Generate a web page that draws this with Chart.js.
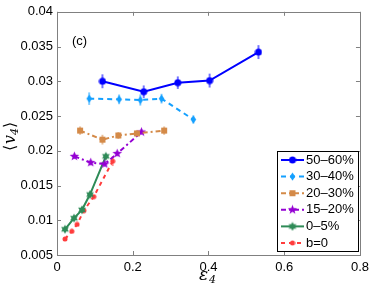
<!DOCTYPE html>
<html>
<head>
<meta charset="utf-8">
<script src="https://cdn.jsdelivr.net/npm/chart.js@4.4.1/dist/chart.umd.min.js"></script>
<style>
  body { margin: 0; background: #fff; }
  #wrap { width: 374px; height: 286px; }
</style>
</head>
<body>
<div id="wrap"><canvas id="chart" width="374" height="286"></canvas></div>
<script>
// series: x = eps4, y = <v4>, err = half length of the error bar
const seriesNames = ["50\u201360%", "30\u201340%", "20\u201330%", "15\u201320%", "0\u20135%", "b=0"];

const x50 = [0.120, 0.229, 0.319, 0.403, 0.532];
const y50 = [0.0300, 0.0285, 0.0298, 0.0301, 0.0342];
const e50 = [0.0010, 0.0009, 0.0009, 0.0010, 0.0010];

const x30 = [0.085, 0.164, 0.220, 0.276, 0.360];
const y30 = [0.0275, 0.0274, 0.0273, 0.0275, 0.0245];
const e30 = [0.0009, 0.0007, 0.0008, 0.0007, 0.0006];

const x20 = [0.061, 0.120, 0.162, 0.211, 0.283];
const y20 = [0.0229, 0.0216, 0.0222, 0.0225, 0.0229];
const e20 = [0.0006, 0.0007, 0.0005, 0.0005, 0.0006];

const x15 = [0.046, 0.089, 0.126, 0.159, 0.223];
const y15 = [0.0192, 0.0183, 0.0181, 0.0196, 0.0227];
const e15 = [0.0004, 0.0004, 0.0004, 0.0004, 0.0004];

const x05 = [0.021, 0.045, 0.066, 0.087, 0.129];
const y05 = [0.0087, 0.0103, 0.0115, 0.0137, 0.0192];
const e05 = [0.0003, 0.0003, 0.0003, 0.0003, 0.0003];

const xb0 = [0.021, 0.039, 0.053, 0.071, 0.097, 0.147];
const yb0 = [0.0073, 0.0084, 0.0094, 0.0114, 0.0134, 0.0185];
const eb0 = [0.0002, 0.0002, 0.0002, 0.0002, 0.0002, 0.0007];

const xTicks = [0, 0.2, 0.4, 0.6, 0.8];
const yTicks = [0.005, 0.01, 0.015, 0.02, 0.025, 0.03, 0.035, 0.04];

function makeMarker(shape, size, color) {
    const c = document.createElement('canvas');
    c.width = size; c.height = size;
    const g = c.getContext('2d');
    const m = size / 2, r = size / 2 - 0.5;
    g.fillStyle = color;
    g.beginPath();
    if (shape == 'circle') {
        g.arc(m, m, r, 0, Math.PI * 2);
    } else if (shape == 'diamond') {
        g.moveTo(m, m - r); g.lineTo(m + r * 0.7, m); g.lineTo(m, m + r); g.lineTo(m - r * 0.7, m);
    } else if (shape == 'square') {
        g.rect(m - r * 0.85, m - r * 0.85, r * 1.7, r * 1.7);
    } else {
        // star: pentagram or hexagram
        const n = shape == 'pentagram' ? 5 : 6;
        const inner = shape == 'pentagram' ? 0.42 : 0.55;
        for (let i = 0; i < n * 2; i++) {
            const a = -Math.PI / 2 + i * Math.PI / n;
            const rr = i % 2 == 0 ? r : r * inner;
            const px = m + rr * Math.cos(a), py = m + rr * Math.sin(a);
            if (i == 0) g.moveTo(px, py); else g.lineTo(px, py);
        }
    }
    g.closePath();
    g.fill();
    return c;
}

function pts(xs, ys) {
    return xs.map((x, i) => ({ x: x, y: ys[i] }));
}

const styles = [
    { color: '#0000ff', dash: [], width: 2, marker: makeMarker('circle', 8, '#0000ff'), err: e50 },
    { color: '#14a0ff', dash: [5, 4], width: 2, marker: makeMarker('diamond', 9, '#14a0ff'), err: e30 },
    { color: '#d48a48', dash: [5, 3, 2, 3], width: 2, marker: makeMarker('square', 8, '#d48a48'), err: e20 },
    { color: '#9400d3', dash: [5, 3, 2, 3], width: 2, marker: makeMarker('pentagram', 11, '#9400d3'), err: e15 },
    { color: '#2e8b57', dash: [], width: 2, marker: makeMarker('hexagram', 10, '#2e8b57'), err: e05 },
    { color: '#ff3c3c', dash: [4, 4], width: 2, marker: makeMarker('circle', 6, '#ff3c3c'), err: eb0 }
];
const allPoints = [pts(x50, y50), pts(x30, y30), pts(x20, y20), pts(x15, y15), pts(x05, y05), pts(xb0, yb0)];

const datasets = seriesNames.map((name, i) => ({
    label: name,
    data: allPoints[i],
    borderColor: styles[i].color,
    backgroundColor: styles[i].color,
    borderWidth: styles[i].width,
    borderDash: styles[i].dash,
    pointStyle: styles[i].marker,
    pointRadius: 4,
    showLine: true,
    tension: 0
}));

const errorBars = {
    id: 'errorBars',
    beforeDatasetsDraw(chart) {
        const c = chart.ctx, xs = chart.scales.x, ys = chart.scales.y;
        c.save();
        c.lineWidth = 2;
        c.globalAlpha = 0.55;
        datasets.forEach((ds, i) => {
            c.strokeStyle = styles[i].color;
            ds.data.forEach((p, j) => {
                const px = xs.getPixelForValue(p.x);
                c.beginPath();
                c.moveTo(px, ys.getPixelForValue(p.y - styles[i].err[j]));
                c.lineTo(px, ys.getPixelForValue(p.y + styles[i].err[j]));
                c.stroke();
            });
        });
        c.restore();
    }
};

const frame = {
    id: 'frame',
    afterDraw(chart) {
        const c = chart.ctx, a = chart.chartArea, xs = chart.scales.x, ys = chart.scales.y;
        c.save();
        c.strokeStyle = '#808080';
        c.lineWidth = 1;
        c.strokeRect(Math.round(a.left) + 0.5, Math.round(a.top) + 0.5, Math.round(a.right - a.left), Math.round(a.bottom - a.top));
        c.beginPath();
        xTicks.forEach(v => {
            const px = Math.round(xs.getPixelForValue(v)) + 0.5;
            c.moveTo(px, a.bottom); c.lineTo(px, a.bottom - 4);
            c.moveTo(px, a.top); c.lineTo(px, a.top + 4);
        });
        yTicks.forEach(v => {
            const py = Math.round(ys.getPixelForValue(v)) + 0.5;
            c.moveTo(a.left, py); c.lineTo(a.left + 4, py);
            c.moveTo(a.right, py); c.lineTo(a.right - 4, py);
        });
        c.stroke();

        // panel tag
        c.fillStyle = '#000';
        c.font = '13px "Liberation Sans", Arial, sans-serif';
        c.textBaseline = 'middle';
        c.fillText('(c)', 72, 41);

        // x title: eps_4
        c.font = 'italic 17px "DejaVu Serif", serif';
        c.fillText('\u03b5', 199, 276);
        c.font = 'italic 11px "DejaVu Serif", serif';
        c.fillText('4', 209, 280);

        // y title: <v_4>
        c.translate(11, 134);
        c.rotate(-Math.PI / 2);
        c.textBaseline = 'middle';
        c.font = '16px "DejaVu Serif", serif';
        c.fillText('\u27e8', -17, 0);
        c.font = 'italic 16px "DejaVu Serif", serif';
        c.fillText('v', -10, 0);
        c.font = 'italic 11px "DejaVu Serif", serif';
        c.fillText('4', -1, 4);
        c.font = '16px "DejaVu Serif", serif';
        c.fillText('\u27e9', 6, 0);
        c.restore();

        // legend box
        const lx = 277.5, ly = 151.5, lw = 81, lh = 100;
        c.save();
        c.fillStyle = '#fff';
        c.fillRect(lx, ly, lw, lh);
        c.strokeStyle = '#000';
        c.lineWidth = 1;
        c.strokeRect(lx, ly, lw, lh);
        c.font = '13px "Liberation Sans", Arial, sans-serif';
        c.textBaseline = 'middle';
        seriesNames.forEach((name, i) => {
            const yy = 160 + i * 16.6;
            c.strokeStyle = styles[i].color;
            c.lineWidth = 2;
            c.setLineDash(styles[i].dash);
            c.beginPath();
            c.moveTo(281, yy); c.lineTo(304, yy);
            c.stroke();
            c.setLineDash([]);
            const mk = styles[i].marker;
            c.drawImage(mk, 292.5 - mk.width / 2, yy - mk.height / 2);
            c.fillStyle = '#000';
            c.fillText(name, 306, yy);
        });
        c.restore();
    }
};

const fmt = v => String(Number(v.toFixed(3)));

new Chart(document.getElementById('chart'), {
    type: 'scatter',
    data: { datasets: datasets },
    options: {
        responsive: false,
        devicePixelRatio: 1,
        animation: false,
        layout: { padding: { top: 11, right: 12, left: 0, bottom: 0 } },
        plugins: { legend: { display: false }, tooltip: { enabled: false } },
        scales: {
            x: {
                type: 'linear', min: 0, max: 0.8,
                afterBuildTicks: s => { s.ticks = xTicks.map(v => ({ value: v })); },
                afterFit: s => { s.height = 31; },
                grid: { display: false, drawTicks: false },
                border: { display: false },
                ticks: { padding: 5, color: '#000', font: { family: '"Liberation Sans", Arial, sans-serif', size: 13 }, callback: v => fmt(v), maxRotation: 0 }
            },
            y: {
                type: 'linear', min: 0.005, max: 0.04,
                afterBuildTicks: s => { s.ticks = yTicks.map(v => ({ value: v })); },
                afterFit: s => { s.width = 57; },
                grid: { display: false, drawTicks: false },
                border: { display: false },
                ticks: { padding: 4, color: '#000', font: { family: '"Liberation Sans", Arial, sans-serif', size: 13 }, callback: v => fmt(v) }
            }
        }
    },
    plugins: [errorBars, frame]
});
</script>
</body>
</html>
